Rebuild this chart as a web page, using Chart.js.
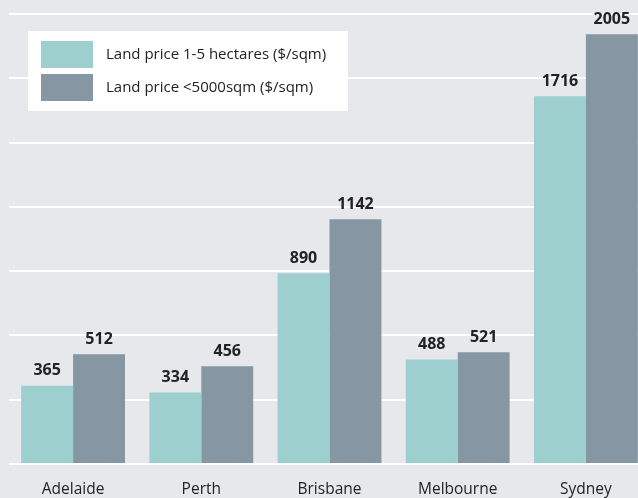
<!DOCTYPE html>
<html>
<head>
<meta charset="utf-8">
<script src="https://cdn.jsdelivr.net/npm/chart.js@4"></script>
<style>
  html, body { margin: 0; padding: 0; overflow: hidden; background: #e7e8eb; }
  #wrap { width: 650px; height: 498px; }
</style>
</head>
<body>
<div id="wrap"><canvas id="myChart"></canvas></div>
<script>
let cities = ["Adelaide", "Perth", "Brisbane", "Melbourne", "Sydney"];
let hectarePrice = [365, 334, 890, 488, 1716];
let smallLotPrice = [512, 456, 1142, 521, 2005];
let seriesNames = ["Land price 1-5 hectares ($/sqm)", "Land price <5000sqm ($/sqm)"];
let seriesColors = ["#9dcfcf", "#8696a2"];

// value labels above each bar
let valueLabels = {
  id: "valueLabels",
  afterDatasetsDraw(chart) {
    let ctx = chart.ctx;
    ctx.save();
    ctx.font = "bold 16px 'Open Sans'";
    ctx.fillStyle = "#222";
    ctx.textAlign = "center";
    ctx.textBaseline = "bottom";
    chart.data.datasets.forEach((ds, i) => {
      chart.getDatasetMeta(i).data.forEach((bar, j) => {
        ctx.fillText(ds.data[j], bar.x, bar.y - 7);
      });
    });
    ctx.restore();
  },
};

// white legend box in the top left
let boxLegend = {
  id: "boxLegend",
  afterDraw(chart) {
    let ctx = chart.ctx;
    ctx.save();
    ctx.fillStyle = "#fff";
    ctx.fillRect(28, 31, 320, 80);
    ctx.font = "15px 'Open Sans'";
    ctx.textBaseline = "middle";
    chart.data.datasets.forEach((ds, i) => {
      let y = 41 + i * 33;
      ctx.fillStyle = ds.backgroundColor;
      ctx.fillRect(41, y, 52, 27);
      ctx.fillStyle = "#222";
      ctx.fillText(ds.label, 106, y + 14);
    });
    ctx.restore();
  },
};

let myChart = document.getElementById("myChart").getContext("2d");
let priceChart = new Chart(myChart, {
  type: "bar",
  data: {
    labels: cities,
    datasets: [
      {
        label: seriesNames[0],
        data: hectarePrice,
        backgroundColor: seriesColors[0],
      },
      {
        label: seriesNames[1],
        data: smallLotPrice,
        backgroundColor: seriesColors[1],
      },
    ],
  },
  options: {
    responsive: true,
    maintainAspectRatio: false,
    animation: false,
    layout: { padding: { left: 9, top: 14, right: 0, bottom: 0 } },
    datasets: {
      bar: { categoryPercentage: 0.81, barPercentage: 1.0 },
    },
    scales: {
      y: {
        min: 0,
        max: 2100,
        ticks: { display: false, stepSize: 300 },
        border: { display: false },
        grid: { color: "#ffffff", lineWidth: 2, drawTicks: false },
        afterFit: (s) => { s.width = 0; },
      },
      x: {
        ticks: { color: "#222", font: { family: "Open Sans", size: 15.5 }, padding: 16 },
        border: { display: false },
        grid: { display: false, drawTicks: false },
        afterFit: (s) => { s.height = 34; },
      },
    },
    plugins: {
      legend: { display: false },
      tooltip: { enabled: false },
    },
  },
  plugins: [valueLabels, boxLegend],
});
</script>
</body>
</html>
